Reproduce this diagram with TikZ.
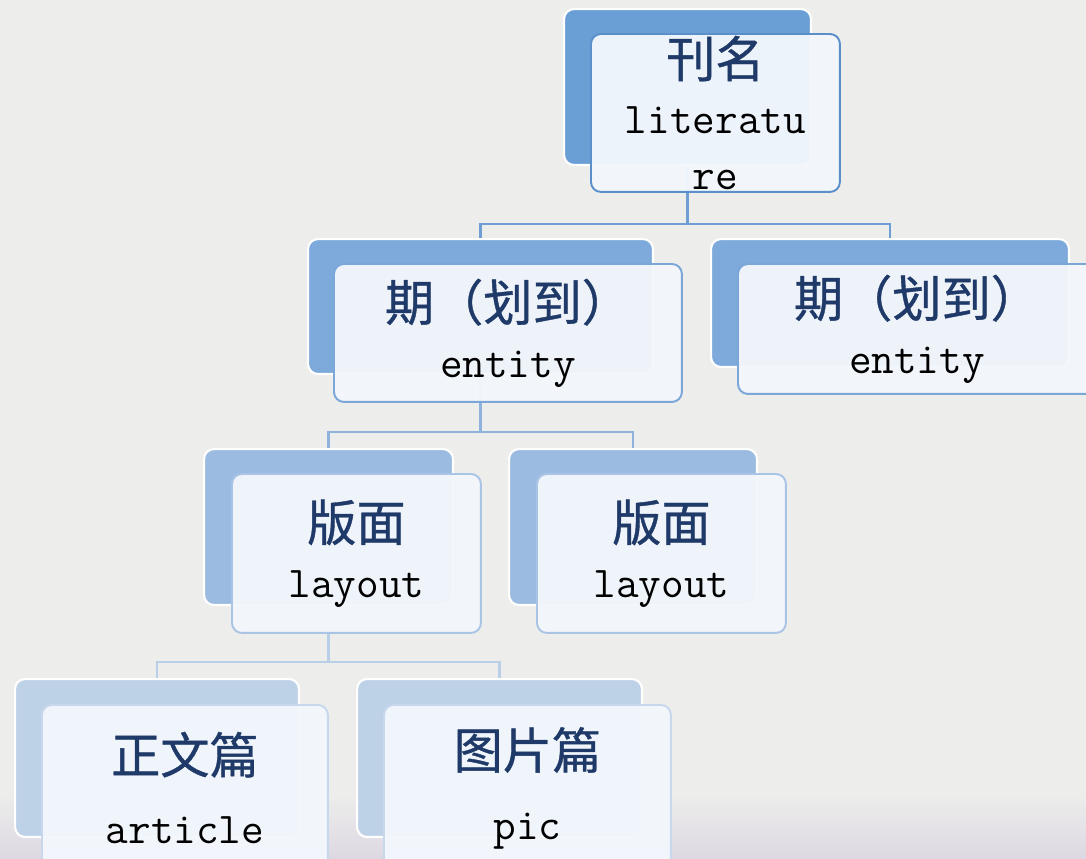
\documentclass[tikz,border=0pt]{standalone}
\usepackage{fontspec}
\newfontfamily\cjk{Noto Sans CJK SC}[FakeBold=0.8]
\usepackage{tikz}
\pgfdeclarelayer{bg}
\pgfsetlayers{bg,main}

\definecolor{paper}{HTML}{EDEDEB}
\definecolor{paperLow}{HTML}{DCD8E3}
\definecolor{faceFill}{HTML}{F3F7FC}
\definecolor{zhBlue}{HTML}{1F3A68}
\definecolor{cardA}{HTML}{6A9FD6}
\definecolor{cardB}{HTML}{7DA9DB}
\definecolor{cardC}{HTML}{9BBBE0}
\definecolor{cardD}{HTML}{BDD1E7}
\definecolor{rimA}{HTML}{5B8FC9}
\definecolor{rimB}{HTML}{7AA6D8}
\definecolor{rimC}{HTML}{A9C4E5}
\definecolor{rimD}{HTML}{C8D8EC}
\definecolor{lineA}{HTML}{6E9ED3}
\definecolor{lineB}{HTML}{8DB2DD}
\definecolor{lineC}{HTML}{B9CEE7}

\newcommand{\cnlabel}[1]{{\cjk\fontsize{28}{32}\selectfont\color{zhBlue}#1}}
\newcommand{\enlabel}[1]{{\ttfamily #1}}

\tikzset{
  card/.style={draw=white, line width=1.2pt, rounded corners=0.2cm, fill=#1,
    inner sep=0pt, anchor=north west},
  face/.style={draw=#1, line width=1.1pt, rounded corners=0.2cm, fill=faceFill,
    fill opacity=0.96, text opacity=1, inner sep=0pt, align=center,
    font=\fontsize{25}{32}\selectfont, anchor=north west},
  bus/.style={draw=#1, line width=1.2pt},
}

\begin{document}
\begin{tikzpicture}[x=0.02cm,y=-0.02cm]
\useasboundingbox (0,0) rectangle (1086,859);
\clip (0,0) rectangle (1086,859);
\begin{pgfonlayer}{bg}
\fill[paper] (0,0) rectangle (1086,859);
\shade[top color=paper, bottom color=paperLow] (0,795) rectangle (1086,859);
\end{pgfonlayer}

% journal
\node[card=cardA, minimum width=4.94cm, minimum height=3.12cm] (litB) at (563,8) {};
\node[face=rimA, minimum width=4.98cm, minimum height=3.16cm] (lit) at (590,33)
  {\cnlabel{刊名}\\\enlabel{literatu}\\\enlabel{re}};

% issues
\node[card=cardB, minimum width=6.90cm, minimum height=2.70cm] (ent1B) at (307,238) {};
\node[face=rimB, minimum width=6.96cm, minimum height=2.76cm] (ent1) at (333,263)
  {\cnlabel{期（划到）}\\\enlabel{entity}};
\node[card=cardB, minimum width=7.16cm, minimum height=2.56cm] (ent2B) at (710,238) {};
\node[face=rimB, minimum width=7.16cm, minimum height=2.60cm] (ent2) at (737,263)
  {\cnlabel{期（划到）}\\\enlabel{entity}};

% layouts
\node[card=cardC, minimum width=4.98cm, minimum height=3.12cm] (lay1B) at (203,448) {};
\node[face=rimC, minimum width=4.98cm, minimum height=3.18cm] (lay1) at (231,473)
  {\cnlabel{版面}\\\enlabel{layout}};
\node[card=cardC, minimum width=4.96cm, minimum height=3.12cm] (lay2B) at (508,448) {};
\node[face=rimC, minimum width=4.98cm, minimum height=3.18cm] (lay2) at (536,473)
  {\cnlabel{版面}\\\enlabel{layout}};

% pieces
\node[card=cardD, minimum width=5.68cm, minimum height=3.16cm] (artB) at (14,678) {};
\node[face=rimD, minimum width=5.72cm, minimum height=3.32cm] (art) at (41,704)
  {\cnlabel{正文篇}\\[8pt]\enlabel{article}};
\node[card=cardD, minimum width=5.70cm, minimum height=3.16cm] (picB) at (356,678) {};
\node[face=rimD, minimum width=5.74cm, minimum height=3.32cm] (pic) at (383,704)
  {\cnlabel{图片篇}\\[8pt]\enlabel{pic}};

\begin{pgfonlayer}{bg}
\draw[bus=lineA] (ent1B.north) -- ++(0,-14) -| (litB.south);
\draw[bus=lineA] (ent2B.north) -- ++(0,-14) -| (litB.south);
\draw[bus=lineB] (lay1B.north) -- ++(0,-16) -| (ent1B.south);
\draw[bus=lineB] (lay2B.north) -- ++(0,-16) -| (ent1B.south);
\draw[bus=lineC] (artB.north) -- ++(0,-16) -| (lay1B.south);
\draw[bus=lineC] (picB.north) -- ++(0,-16) -| (lay1B.south);
\end{pgfonlayer}
\end{tikzpicture}
\end{document}
